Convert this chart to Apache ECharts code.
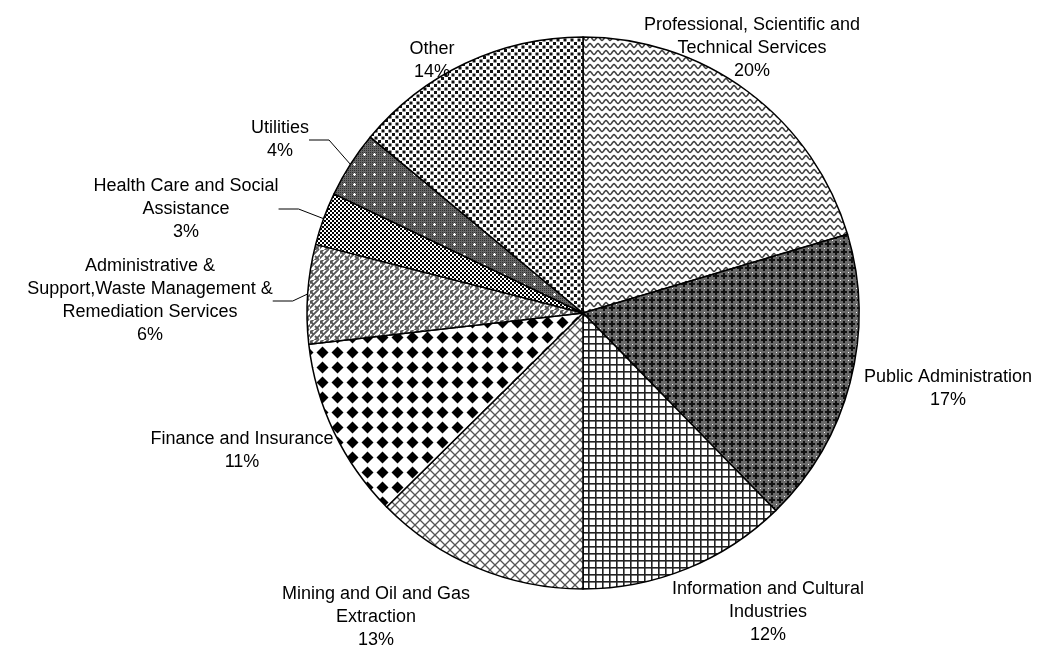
<!DOCTYPE html>
<html>
<head>
<meta charset="utf-8">
<script src="https://cdn.jsdelivr.net/npm/echarts@6/dist/echarts.min.js"></script>
<style>
  html, body { margin: 0; padding: 0; background: #fff; }
  #chart { width: 1037px; height: 651px; }
</style>
</head>
<body>
<div id="chart"></div>
<script>
const categories = [
  'Professional, Scientific and\nTechnical Services',
  'Public Administration',
  'Information and Cultural\nIndustries',
  'Mining and Oil and Gas\nExtraction',
  'Finance and Insurance',
  'Administrative &\nSupport,Waste Management &\nRemediation Services',
  'Health Care and Social\nAssistance',
  'Utilities',
  'Other'
];
const shares = [20.4, 17.3, 12.3, 12.6, 10.6, 5.8, 3.1, 3.9, 14.0];
const leaderLines = [false, false, false, false, false, true, true, true, false];

// where each label block is centred (layout, not data)
const labelSpots = [
  [752, 48], [948, 389], [768, 612], [376, 617], [242, 451],
  [150, 301], [186, 209], [280, 140], [432, 61]
];

// small canvas tiles that mimic the black & white fill patterns
function tile(w, h, draw) {
  const c = document.createElement('canvas');
  c.width = w; c.height = h;
  const g = c.getContext('2d');
  g.fillStyle = '#fff';
  g.fillRect(0, 0, w, h);
  draw(g, w, h);
  return { image: c, repeat: 'repeat' };
}

const patterns = [
  // wavy lines
  tile(8, 7, (g) => {
    g.strokeStyle = '#444'; g.lineWidth = 1.6;
    g.beginPath();
    for (let x = -1; x <= 9; x += 0.5) {
      const y = 3.5 + 1.8 * Math.sin(x / 8 * Math.PI * 2);
      if (x === -1) g.moveTo(x, y); else g.lineTo(x, y);
    }
    g.stroke();
  }),
  // dark crosses
  tile(8, 8, (g) => {
    g.fillStyle = '#6a6a6a'; g.fillRect(0, 0, 8, 8);
    g.fillStyle = '#111';
    g.fillRect(3, 1, 2, 6); g.fillRect(1, 3, 6, 2);
    g.fillStyle = '#fff'; g.fillRect(0, 0, 1, 1);
  }),
  // square grid
  tile(7, 7, (g) => {
    g.fillStyle = '#222';
    g.fillRect(0, 0, 7, 1.6); g.fillRect(0, 0, 1.6, 7);
  }),
  // diagonal lattice
  tile(10, 10, (g) => {
    g.strokeStyle = '#555'; g.lineWidth = 1.3;
    g.beginPath();
    g.moveTo(0, 0); g.lineTo(10, 10);
    g.moveTo(10, 0); g.lineTo(0, 10);
    g.stroke();
  }),
  // big black diamonds
  tile(15, 15, (g) => {
    g.fillStyle = '#000';
    g.beginPath();
    g.moveTo(7.5, 1.5); g.lineTo(13.5, 7.5); g.lineTo(7.5, 13.5); g.lineTo(1.5, 7.5);
    g.closePath(); g.fill();
  }),
  // herringbone weave
  tile(10, 10, (g) => {
    g.strokeStyle = '#555'; g.lineWidth = 1.8;
    g.beginPath();
    g.moveTo(-1, 4); g.lineTo(4, -1);
    g.moveTo(-1, 9); g.lineTo(9, -1);
    g.moveTo(4, 11); g.lineTo(11, 4);
    g.moveTo(5, 6); g.lineTo(9, 10);
    g.moveTo(0, 1); g.lineTo(4, 5);
    g.stroke();
  }),
  // fine checkerboard
  tile(4, 4, (g) => {
    g.fillStyle = '#000';
    g.fillRect(0, 0, 2, 2); g.fillRect(2, 2, 2, 2);
  }),
  // gray with white sparkles
  tile(10, 10, (g) => {
    g.fillStyle = '#666'; g.fillRect(0, 0, 10, 10);
    g.fillStyle = '#333';
    for (let i = 0; i < 10; i += 2) for (let j = 0; j < 10; j += 2) g.fillRect(i, j, 1, 1);
    g.fillStyle = '#fff';
    g.fillRect(4, 3, 1, 3); g.fillRect(3, 4, 3, 1);
  }),
  // staggered dots
  tile(7, 7, (g) => {
    g.fillStyle = '#111';
    g.fillRect(0, 0, 3, 3); g.fillRect(3.5, 3.5, 3, 3);
  })
];

const chart = echarts.init(document.getElementById('chart'));
chart.setOption({
  animation: false,
  series: [{
    type: 'pie',
    center: [583, 313],
    radius: 276,
    startAngle: 90,
    clockwise: true,
    itemStyle: { borderColor: '#000', borderWidth: 1.5 },
    label: {
      show: true,
      position: 'outside',
      formatter: (p) => p.name + '\n' + Math.round(p.percent) + '%',
      fontFamily: 'Liberation Sans, Arial, sans-serif',
      fontSize: 18,
      lineHeight: 23,
      color: '#000',
      overflow: 'none'
    },
    labelLine: { length: 12, length2: 20, lineStyle: { color: '#000', width: 1 } },
    labelLayout: (params) => {
      const spot = labelSpots[params.dataIndex];
      return { x: spot[0], y: spot[1], align: 'center', verticalAlign: 'middle' };
    },
    emphasis: { disabled: true },
    data: categories.map((name, i) => ({
      name: name,
      value: shares[i],
      itemStyle: { color: patterns[i] },
      labelLine: { show: leaderLines[i] }
    }))
  }]
});
</script>
</body>
</html>
